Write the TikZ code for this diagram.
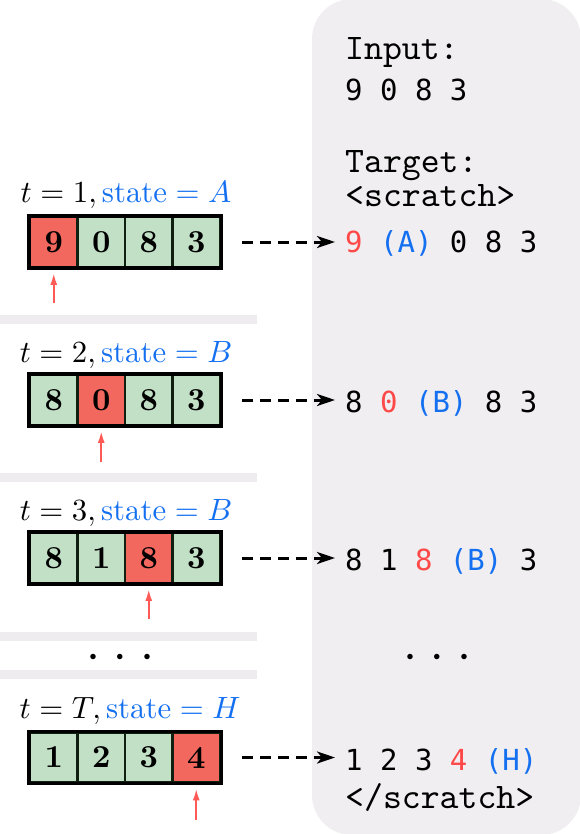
\RequirePackage{fix-cm}
\documentclass[tikz,border=0pt]{standalone}
\usepackage{amsmath}
\usepackage{graphicx}
\usepackage{fontspec}
\newfontfamily\dmono{DejaVu Sans Mono}
\usetikzlibrary{arrows.meta}
\definecolor{panelc}{RGB}{240,238,240}
\definecolor{barc}{RGB}{238,236,238}
\definecolor{redc}{RGB}{242,104,94}
\definecolor{greenc}{RGB}{193,224,198}
\definecolor{edgec}{RGB}{16,32,16}
\definecolor{stblue}{RGB}{20,112,240}
\definecolor{ptrred}{RGB}{255,90,85}
\definecolor{txtred}{RGB}{255,72,72}
\tikzset{
  cell/.style={draw=edgec, line width=2.3pt, minimum width=47.5pt, minimum height=49.5pt,
    inner sep=0pt},
  gcell/.style={cell, fill=greenc},
  rcell/.style={cell, fill=redc},
  outline/.style={draw=black, line width=3.3pt},
  lab/.style={anchor=base, inner sep=0pt},
  ptr/.style={draw=ptrred, line width=2.1pt, -{Latex[length=12pt,width=7pt]}},
  dasharr/.style={draw=black, line width=3pt, dash pattern=on 11pt off 7pt,
    -{Stealth[length=18pt,width=12pt,inset=5pt]}},
  tt/.style={anchor=base west, inner sep=0pt},
  dm/.style={anchor=base west, inner sep=0pt, font=\fontsize{29}{32}\selectfont\dmono},
  dots/.style={inner sep=0pt, font=\fontsize{14}{16}\selectfont},
  bar/.style={fill=barc}
}
\newcommand{\dg}[1]{\scalebox{3.2}{\bfseries #1}}
\newcommand{\lb}[1]{\scalebox{3.08}{#1}}
\newcommand{\tx}[1]{\scalebox{3.6}{\ttfamily #1}}
\newcommand{\mydots}{$\bullet$\hspace{20pt}$\bullet$\hspace{20pt}$\bullet$}
\begin{document}
\begin{tikzpicture}[x=1pt,y=-1pt]
\useasboundingbox (0,0) rectangle (579,834);
% panel
\fill[panelc, rounded corners=40pt] (312,-1) rectangle (581,835);
% separator bars
\fill[bar] (0,315) rectangle (257,324);
\fill[bar] (0,473) rectangle (257,482);
\fill[bar] (0,632) rectangle (257,641);
\fill[bar] (0,670) rectangle (257,679);

% right column text
\node[tt] (inp) at (345,60) {\tx{Input:}};
\node[dm] (inpv) at (345,101) {9 0 8 3};
\node[tt] (tgt) at (345,173) {\tx{Target:}};
\node[tt] (scr) at (345,207) {\tx{<scratch>}};
\node[dm] (t1) at (345,252) {\textcolor{txtred}{9} \textcolor{stblue}{(A)} 0 8 3};
\node[dm] (t2) at (345,412) {8 \textcolor{txtred}{0} \textcolor{stblue}{(B)} 8 3};
\node[dm] (t3) at (345,570) {8 1 \textcolor{txtred}{8} \textcolor{stblue}{(B)} 3};
\node[dots] (rd) at (437,657) {\mydots};
\node[dm] (t4) at (345,770) {1 2 3 \textcolor{txtred}{4} \textcolor{stblue}{(H)}};
\node[tt] (escr) at (345,808) {\tx{</scratch>}};

% row 1
\node[lab] (l1) at (126,203) {\lb{$t=1,\textcolor{stblue}{\text{state}=A}$}};
\node[rcell] (a1) at (53.75,242) {\dg{9}};
\node[gcell] (a2) at (101.25,242) {\dg{0}};
\node[gcell] (a3) at (148.75,242) {\dg{8}};
\node[gcell] (a4) at (196.25,242) {\dg{3}};
\draw[outline] (a1.north west) rectangle (a4.south east);
\coordinate (p1) at (53.75,303);
\draw[ptr, shorten >=5pt] (p1) -- (a1.south);
\draw[dasharr, shorten <=21pt, shorten >=10pt] (a4.east) -- (a4.east -| t1.west);

% row 2
\node[lab] (l2) at (126,362) {\lb{$t=2,\textcolor{stblue}{\text{state}=B}$}};
\node[gcell] (b1) at (53.75,400) {\dg{8}};
\node[rcell] (b2) at (101.25,400) {\dg{0}};
\node[gcell] (b3) at (148.75,400) {\dg{8}};
\node[gcell] (b4) at (196.25,400) {\dg{3}};
\draw[outline] (b1.north west) rectangle (b4.south east);
\coordinate (p2) at (101.25,462);
\draw[ptr, shorten >=5pt] (p2) -- (b2.south);
\draw[dasharr, shorten <=21pt, shorten >=10pt] (b4.east) -- (b4.east -| t2.west);

% row 3
\node[lab] (l3) at (126,520) {\lb{$t=3,\textcolor{stblue}{\text{state}=B}$}};
\node[gcell] (c1) at (53.75,558) {\dg{8}};
\node[gcell] (c2) at (101.25,558) {\dg{1}};
\node[rcell] (c3) at (148.75,558) {\dg{8}};
\node[gcell] (c4) at (196.25,558) {\dg{3}};
\draw[outline] (c1.north west) rectangle (c4.south east);
\coordinate (p3) at (148.75,619);
\draw[ptr, shorten >=5pt] (p3) -- (c3.south);
\draw[dasharr, shorten <=21pt, shorten >=10pt] (c4.east) -- (c4.east -| t3.west);

% dots
\node[dots] (ld) at (120,657) {\mydots};

% row T
\node[lab] (l4) at (130,718) {\lb{$t=T,\textcolor{stblue}{\text{state}=H}$}};
\node[gcell] (d1) at (53.75,757.5) {\dg{1}};
\node[gcell] (d2) at (101.25,757.5) {\dg{2}};
\node[gcell] (d3) at (148.75,757.5) {\dg{3}};
\node[rcell] (d4) at (196.25,757.5) {\dg{4}};
\draw[outline] (d1.north west) rectangle (d4.south east);
\coordinate (p4) at (196.25,820);
\draw[ptr, shorten >=5pt] (p4) -- (d4.south);
\draw[dasharr, shorten <=21pt, shorten >=10pt] (d4.east) -- (d4.east -| t4.west);
\end{tikzpicture}
\end{document}
